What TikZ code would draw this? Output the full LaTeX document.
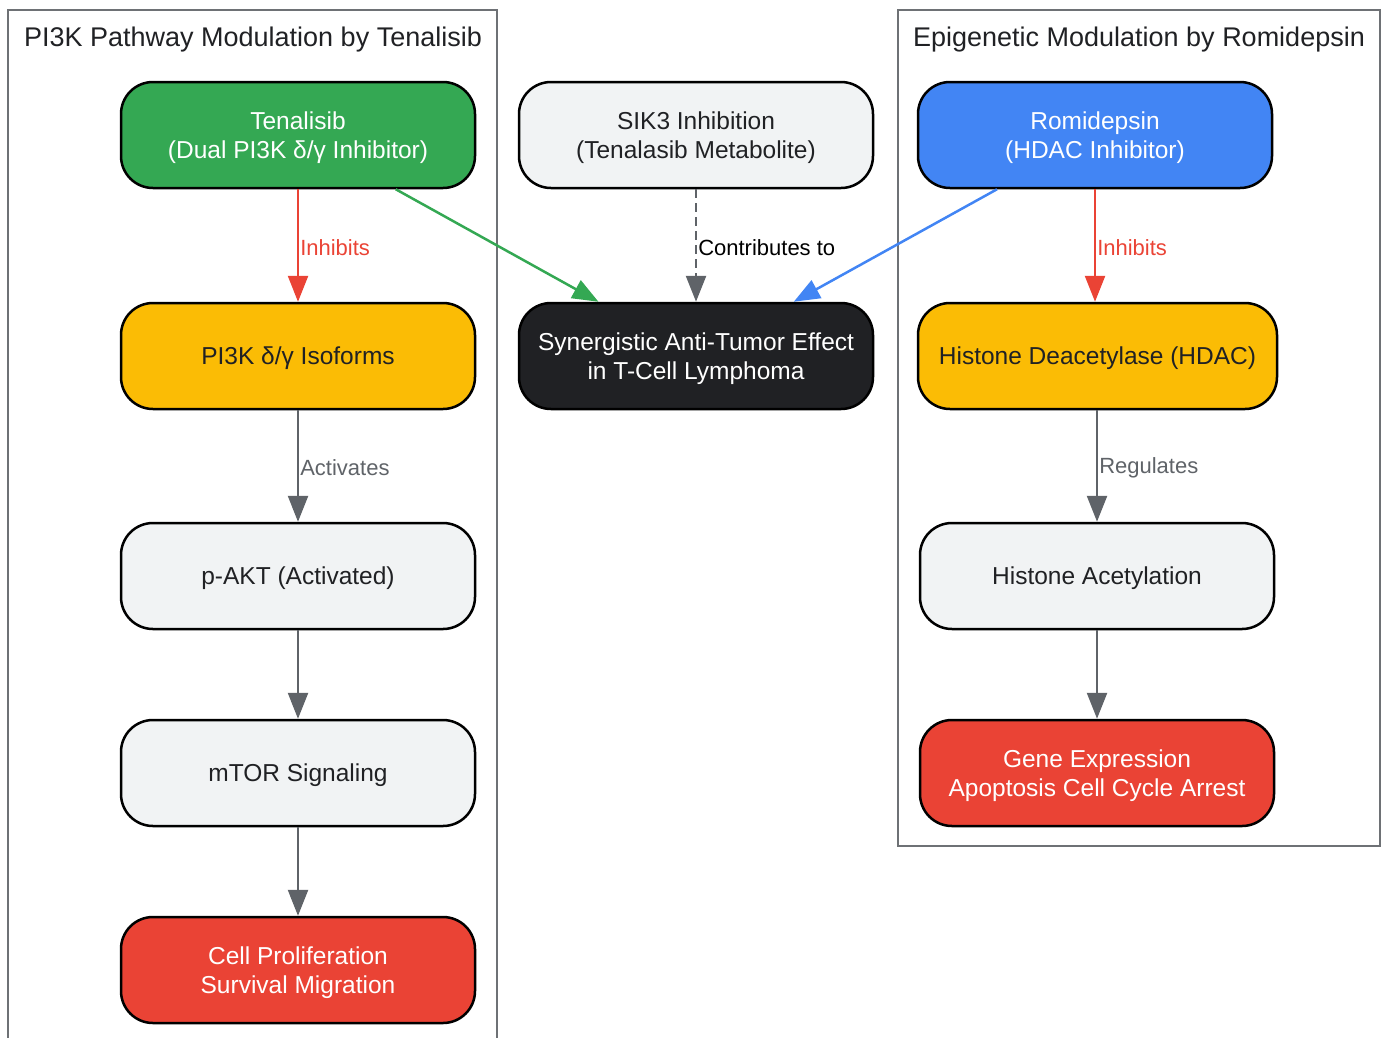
\documentclass[tikz,border=0pt]{standalone}
\usepackage{fontspec}
\setmainfont{Liberation Sans}
\usetikzlibrary{arrows.meta}
\definecolor{cgreen}{HTML}{34A853}
\definecolor{cyellow}{HTML}{FBBC05}
\definecolor{clight}{HTML}{F1F3F4}
\definecolor{cred}{HTML}{EA4335}
\definecolor{cblue}{HTML}{4285F4}
\definecolor{cdark}{HTML}{202124}
\definecolor{cgray}{HTML}{5F6368}
\definecolor{cframe}{HTML}{6E7175}
\newcommand\btxt[1]{\raisebox{-3pt}[\height][\depth]{\begin{tabular}{@{}c@{}}#1\end{tabular}}}
\tikzset{
  box/.style={draw=black, line width=2.5pt, rounded corners=32pt, minimum width=354pt, minimum height=106pt,
    align=center, inner sep=0pt, font=\fontsize{24.5}{29}\selectfont},
  lightbox/.style={box, fill=clight, text=cdark},
  redbox/.style={box, fill=cred, text=white},
  yellowbox/.style={box, fill=cyellow, text=cdark},
  cluster/.style={draw=cframe, line width=2pt},
  ctitle/.style={text=cdark, font=\fontsize{27}{30}\selectfont, inner sep=0pt},
  arr/.style={line width=2.5pt, -{Triangle[length=26pt,width=20pt]}},
  elabel/.style={font=\fontsize{22}{26}\selectfont, inner sep=1pt, anchor=west, yshift=-2pt},
}
\begin{document}
\begin{tikzpicture}[x=1pt,y=-1pt]
\useasboundingbox (0,0) rectangle (1387,1037);
% clusters
\draw[cluster] (8,1045) -- (8,10) -- (497,10) -- (497,1045);
\draw[cluster] (898,10) rectangle (1380,846);
\node[ctitle] (t1) at (253,39.5) {PI3K Pathway Modulation by Tenalisib};
\node[ctitle] (t2) at (1139,39.5) {Epigenetic Modulation by Romidepsin};
% nodes
\node[box, fill=cgreen, text=white] (ten) at (298,135) {\btxt{Tenalisib\\(Dual PI3K δ/γ Inhibitor)}};
\node[yellowbox] (pi3k) at (298,356) {\btxt{PI3K δ/γ Isoforms}};
\node[lightbox] (akt) at (298,576) {\btxt{p-AKT (Activated)}};
\node[lightbox] (mtor) at (298,773) {\btxt{mTOR Signaling}};
\node[redbox] (prol) at (298,970) {\btxt{Cell Proliferation\\Survival Migration}};
\node[lightbox] (sik) at (696,135) {\btxt{SIK3 Inhibition\\(Tenalasib Metabolite)}};
\node[box, fill=cdark, text=white] (syn) at (696,356) {\btxt{Synergistic Anti-Tumor Effect\\in T-Cell Lymphoma}};
\node[box, fill=cblue, text=white] (rom) at (1095,135) {\btxt{Romidepsin\\(HDAC Inhibitor)}};
\node[yellowbox, minimum width=359pt] (hdac) at (1097.5,356) {\btxt{Histone Deacetylase (HDAC)}};
\node[lightbox] (ha) at (1097,576) {\btxt{Histone Acetylation}};
\node[redbox] (gene) at (1097,773) {\btxt{Gene Expression\\Apoptosis Cell Cycle Arrest}};
% edges
\draw[arr, cred] (ten.south) -- node[elabel, text=cred] {Inhibits} (pi3k.north);
\draw[arr, cgray] (pi3k.south) -- node[elabel, text=cgray] {Activates} (akt.north);
\draw[arr, cgray] (akt.south) -- (mtor.north);
\draw[arr, cgray] (mtor.south) -- (prol.north);
\draw[arr, cgreen] (ten) -- (syn);
\draw[arr, cgray, dash pattern=on 9pt off 5pt] (sik.south) -- node[elabel, text=black] {Contributes to} (syn.north);
\draw[arr, cblue] (rom) -- (syn);
\draw[arr, cred] (rom.south) -- node[elabel, text=cred] {Inhibits} (rom.south |- hdac.north);
\draw[arr, cgray] (ha.north |- hdac.south) -- node[elabel, text=cgray] {Regulates} (ha.north);
\draw[arr, cgray] (ha.south) -- (gene.north);
\end{tikzpicture}
\end{document}
